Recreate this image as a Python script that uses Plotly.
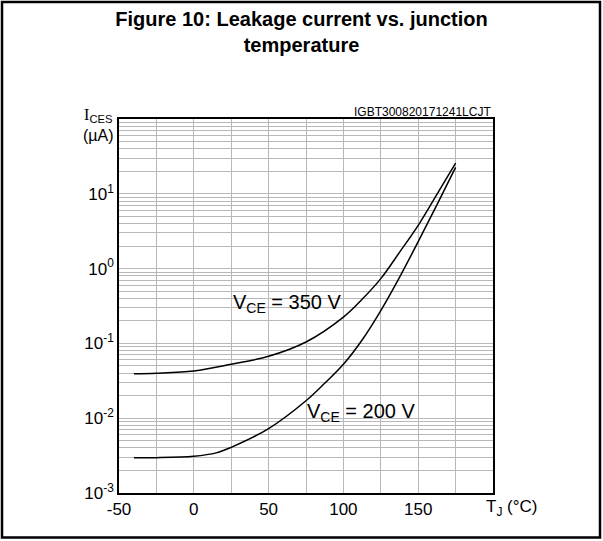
import math
import plotly.graph_objects as go

# ---- data ----
temps_350 = [-40, -25, 0, 25, 50, 75, 100, 112.5, 125, 137.5, 150, 162.5, 175]
ices_350 = [0.0394, 0.040, 0.0428, 0.0526, 0.0673, 0.1045, 0.225, 0.389, 0.735, 1.65, 3.79, 9.84, 25.8]

temps_200 = [-40, -25, 0, 15, 25, 50, 75, 87.5, 100, 112.5, 125, 137.5, 150, 162.5, 175]
ices_200 = [0.00297, 0.00297, 0.0031, 0.00344, 0.00408, 0.00726, 0.0171, 0.0293, 0.0526,
            0.111, 0.275, 0.765, 2.29, 7.13, 22.6]

x_major = [-50, 0, 50, 100, 150]
x_major_labels = ["-50", "0", "50", "100", "150"]
x_minor = [-25, 25, 75, 125, 175]

y_major = [0.001, 0.01, 0.1, 1, 10]
y_major_labels = ["10<sup>-3</sup>", "10<sup>-2</sup>", "10<sup>-1</sup>", "10<sup>0</sup>", "10<sup>1</sup>"]
y_minor = [m * v for v in y_major for m in range(2, 10)] + [100]

curve_labels = ["V<sub>CE</sub> = 350 V", "V<sub>CE</sub> = 200 V"]
label_x = [62.3, 112.4]
label_y = [0.343, 0.0118]

FONT = "Liberation Sans, Arial, sans-serif"
GRID = "#b8b8b8"

fig = go.Figure()
for xs, ys in [(temps_350, ices_350), (temps_200, ices_200)]:
    fig.add_trace(go.Scatter(x=xs, y=ys, mode="lines",
                             line=dict(color="black", width=1.5, shape="spline", smoothing=1.0),
                             showlegend=False, hoverinfo="skip"))

fig.update_layout(
    width=603, height=541,
    margin=dict(l=119, r=110, t=119, b=48),
    paper_bgcolor="white", plot_bgcolor="white",
    font=dict(family=FONT, color="black", size=17),
    title=dict(text="<b>Figure 10: Leakage current vs. junction<br>temperature</b>",
               x=0.5, xref="container", xanchor="center",
               y=0.952, yref="container", yanchor="top",
               font=dict(family=FONT, size=20, color="black")),
)

fig.update_xaxes(range=[-50, 200], tickmode="array", tickvals=x_major, ticktext=x_major_labels,
                 showgrid=True, gridcolor=GRID, gridwidth=1,
                 minor=dict(tickmode="array", tickvals=x_minor, showgrid=True,
                            gridcolor=GRID, gridwidth=1, ticks=""),
                 showline=True, linecolor="black", linewidth=1.5, mirror=True,
                 ticks="", zeroline=False, tickfont=dict(size=17))
fig.update_yaxes(type="log", range=[-3, 2], tickmode="array", tickvals=y_major, ticktext=y_major_labels,
                 showgrid=True, gridcolor=GRID, gridwidth=1,
                 minor=dict(tickmode="array", tickvals=y_minor, showgrid=True,
                            gridcolor=GRID, gridwidth=1, ticks=""),
                 showline=True, linecolor="black", linewidth=1.5, mirror=True,
                 ticks="", zeroline=False, tickfont=dict(size=17))

annotations = []
for txt, xv, yv, hh in zip(curve_labels, label_x, label_y, [18, 15.5]):
    # white box behind the label (above grid, below the curves), sized in pixels around the label
    fig.add_shape(type="rect", xref="x", yref="y", xsizemode="pixel", ysizemode="pixel",
                  xanchor=xv, yanchor=math.log10(yv), x0=-56, x1=56, y0=-hh, y1=hh,
                  line=dict(width=0), fillcolor="white", layer="between")
    annotations.append(dict(text=txt, x=xv, y=math.log10(yv), xref="x", yref="y",
                            showarrow=False, font=dict(size=20)))
annotations += [
    dict(text="T<sub>J</sub> (°C)", x=1.0, y=0, xref="paper", yref="paper",
         xanchor="left", yanchor="top", xshift=-9, yshift=-2,
         showarrow=False, font=dict(size=17)),
    dict(text="IGBT300820171241LCJT", x=1.0, y=1.0, xref="paper", yref="paper",
         xanchor="right", yanchor="bottom", yshift=-2,
         showarrow=False, font=dict(size=12)),
    dict(text="<span style='font-family:Liberation Serif'>I</span><sub>CES</sub><br>(µA)",
         x=0, y=1.0, xref="paper", yref="paper",
         xanchor="right", yanchor="middle", xshift=-3, yshift=-6, align="center",
         showarrow=False, font=dict(size=16)),
]
fig.update_layout(annotations=annotations)

# outer frame of the figure
fig.add_shape(type="rect", xref="paper", yref="paper",
              x0=-0.3128, x1=1.2861, y0=-0.1190, y1=1.3128,
              line=dict(color="black", width=2.5), fillcolor="rgba(0,0,0,0)", layer="above")

fig.write_html("out.html")
